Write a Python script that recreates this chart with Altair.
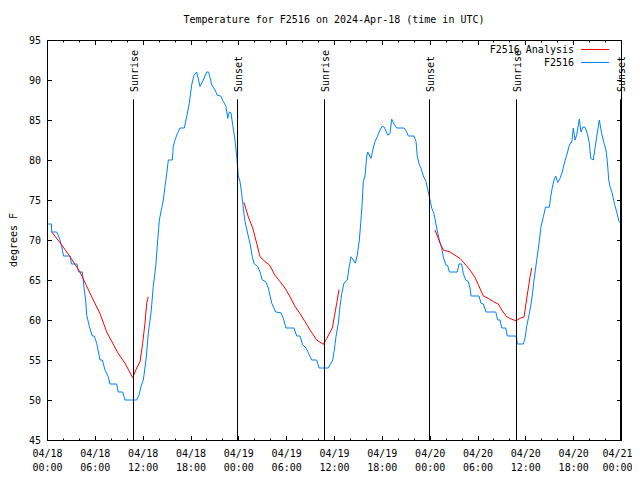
import altair as alt
import pandas as pd

# ---------------- data (hours since 2024-04-18 00:00 UTC, degrees F) ----------------
obs_hours = [0.16, 0.56, 0.59, 1.22, 1.44, 1.63, 1.88, 2.07, 2.89, 3.07, 3.76, 3.95, 4.43, 4.68,
             4.85, 4.98, 5.31, 5.68, 5.93, 6.23, 6.65, 6.94, 7.28, 7.69, 7.90, 8.74, 8.94, 9.50,
             9.78, 11.25, 11.54, 11.79, 12.08, 12.42, 12.71, 13.05, 13.33, 13.64, 13.89, 14.09,
             14.59, 14.80, 15.02, 15.22, 15.72, 15.84, 16.06, 16.35, 16.68, 17.22, 17.52, 17.85,
             18.15, 18.44, 18.78, 19.19, 19.61, 20.03, 20.28, 20.66, 21.07, 21.36, 21.79, 22.12,
             22.45, 22.67, 22.87, 23.08, 23.29, 23.58, 23.80, 24.00, 24.21, 24.42, 24.62, 24.84,
             25.13, 25.46, 25.75, 26.00, 26.43, 26.72, 27.01, 27.43, 27.76, 28.19, 28.69, 29.35,
             29.64, 29.98, 30.98, 31.32, 31.74, 32.07, 32.49, 32.78, 33.20, 33.83, 34.12, 35.29,
             35.84, 36.04, 36.25, 36.54, 36.75, 36.97, 37.25, 37.67, 37.88, 38.13, 38.42, 38.67,
             38.92, 39.18, 39.35, 39.51, 39.68, 39.89, 40.10, 40.23, 40.64, 40.93, 41.14, 41.43,
             41.77, 42.02, 42.31, 42.74, 43.02, 43.24, 43.53, 43.87, 44.78, 45.12, 45.32, 46.04,
             46.29, 46.45, 46.70, 46.91, 47.20, 47.54, 47.83, 48.04, 48.26, 48.54, 48.88, 49.21,
             49.51, 49.71, 50.01, 50.26, 50.47, 51.47, 51.68, 52.02, 52.22, 52.52, 52.85, 53.06,
             53.19, 54.19, 54.44, 54.73, 55.07, 56.29, 56.54, 56.82, 57.04, 57.54, 57.74, 58.79,
             58.92, 58.99, 59.75, 59.96, 60.17, 60.50, 60.80, 61.09, 61.43, 61.72, 61.97, 62.26,
             62.53, 63.01, 63.18, 63.39, 63.60, 63.81, 64.06, 64.35, 64.64, 64.89, 65.19, 65.48,
             65.69, 65.82, 66.02, 66.23, 66.44, 66.77, 66.98, 67.20, 67.49, 67.78, 68.03, 68.20,
             68.53, 68.74, 68.95, 69.28, 69.58, 69.87, 70.12, 70.29, 70.46, 70.62, 70.91, 71.16,
             71.46, 71.75, 72.00]
obs_temps = [72, 72, 71, 71, 70.5, 70, 69, 68, 68, 67, 67, 66, 66, 63.75,
             62.5, 60.6, 59.2, 58, 58, 57.1, 55, 55, 53.75, 52.9, 52, 52, 51, 51,
             50, 50, 50.6, 51.7, 52.5, 55, 58.4, 60.9, 64.2, 66.7, 70, 72.5,
             75, 76.7, 78.3, 80, 80, 81.7, 82.5, 83.3, 84, 84, 85.4, 87.1,
             89.4, 90.6, 91, 89.2, 90, 91, 91, 89.4, 88.75, 88.1, 88, 87.3,
             86.7, 85.2, 86, 85.9, 84.4, 82.5, 80.4, 78, 77.3, 75.8, 74, 72.3,
             71, 69.6, 67.9, 67, 66.7, 66, 65, 64.8, 64, 62.1, 61, 60.9,
             60.2, 59, 59, 58, 58, 56.9, 56.5, 55.9, 55, 55, 54, 54,
             55, 56.25, 57.9, 59.6, 61.7, 63.3, 64.6, 65, 66.5, 67.9, 67.5, 67.1,
             68.1, 70, 72.1, 74.2, 77.3, 78, 80.4, 81, 80.2, 81.5, 82.3, 82.9,
             83.75, 84.2, 84.1, 83.1, 83.3, 85.1, 84.5, 84, 84, 83.5, 83, 83,
             82.3, 80.4, 79.4, 79, 78, 77.3, 76, 75, 74, 73.3, 71.5, 70,
             69, 67.9, 66.9, 66.8, 66, 66, 67, 67, 65.8, 65, 64.8, 64,
             63, 63, 62.1, 62, 61, 61, 60, 60, 59, 59, 58, 58,
             57.7, 57, 57, 57.7, 59.2, 60.8, 62.5, 65, 67.5, 69.6, 71.7, 72.9,
             74.1, 74.1, 75.4, 76.6, 77.5, 78, 77.2, 77.7, 78.5, 79.6, 80.6, 81.7,
             82.2, 82.2, 84, 82.5, 83.1, 85.1, 83.5, 84.1, 84.1, 83.3, 82.1, 80.2,
             80, 81.5, 82.9, 85, 83.3, 82.1, 81.25, 79.8, 77.5, 76.7, 75.8, 74.6,
             73.5, 72.3, 72]

ana_hours_1 = [0.59, 1.84, 2.89, 4.14, 5.61, 6.65, 7.49, 8.94, 9.78, 10.75, 11.25, 11.67,
               12.00, 12.29, 12.51, 12.71]
ana_temps_1 = [71.0, 69.4, 67.9, 66.0, 62.9, 60.8, 58.5, 55.8, 54.6, 52.8, 54.0, 54.8,
               57.1, 59.6, 62.1, 62.9]
ana_hours_2 = [24.71, 25.25, 25.80, 26.30, 26.72, 27.35, 27.89, 28.60, 29.23, 29.85, 30.48,
               31.11, 31.74, 32.36, 32.99, 33.83, 34.66, 35.09, 35.79, 36.04, 36.34, 36.63]
ana_temps_2 = [74.7, 72.9, 71.5, 69.6, 67.9, 67.3, 66.9, 65.6, 64.8, 64.0, 62.9,
               61.7, 60.8, 59.8, 58.75, 57.5, 56.96, 57.7, 59.0, 60.4, 62.1, 63.8]
ana_hours_3 = [48.67, 49.01, 49.30, 49.71, 50.55, 51.17, 51.80, 52.43, 53.06, 53.69, 54.10,
               54.73, 55.36, 55.98, 56.61, 57.04, 57.67, 58.29, 58.83, 59.33, 59.84, 60.09,
               60.30, 60.59, 60.80]
ana_temps_3 = [71.25, 70.4, 69.6, 68.75, 68.5, 68.1, 67.7, 67.0, 66.25, 65.3, 64.4,
               63.0, 62.7, 62.3, 62.0, 61.25, 60.4, 60.1, 59.9, 60.2, 60.4, 62.1,
               63.5, 65.4, 66.5]

sun_hours = [10.85, 23.90, 34.81, 47.98, 58.89, 71.94]
sun_labels = ["Sunrise", "Sunset", "Sunrise", "Sunset", "Sunrise", "Sunset"]

x_major = [0, 6, 12, 18, 24, 30, 36, 42, 48, 54, 60, 66, 72]
x_minor = list(range(0, 73, 2))
x_dates = ["04/18", "04/18", "04/18", "04/18", "04/19", "04/19", "04/19", "04/19",
           "04/20", "04/20", "04/20", "04/20", "04/21"]
x_times = ["00:00", "06:00", "12:00", "18:00"] * 3 + ["00:00"]
y_ticks = [45, 50, 55, 60, 65, 70, 75, 80, 85, 90, 95]

legend_labels = ["F2516 Analysis", "F2516"]
legend_colors = ["#ff0000", "#0080ff"]
title_text = "Temperature for F2516 on 2024-Apr-18 (time in UTC)"
y_title = "degrees F"

# ---------------- frames ----------------
obs = pd.DataFrame({"h": obs_hours, "t": obs_temps})
ana = pd.concat([
    pd.DataFrame({"h": ana_hours_1, "t": ana_temps_1, "seg": 1}),
    pd.DataFrame({"h": ana_hours_2, "t": ana_temps_2, "seg": 2}),
    pd.DataFrame({"h": ana_hours_3, "t": ana_temps_3, "seg": 3}),
])
sun = pd.DataFrame({"h": sun_hours, "label": sun_labels})

FONT = "DejaVu Sans Mono"
W, H = 574, 400
MAJ, MIN = 4.5, 2

xs = alt.Scale(domain=[0, 72], nice=False, zero=False)
ys = alt.Scale(domain=[45, 95], nice=False, zero=False)

label_expr = (f"[{x_dates}[round(datum.value/6)], {x_times}[round(datum.value/6)]]")


def tick_axis(orient, values, size, **kw):
    return alt.Axis(orient=orient, values=values, offset=-size, tickSize=size,
                    domain=False, grid=False, title=None, tickColor="black",
                    tickWidth=1, **kw)


blue = alt.Chart(obs).mark_line(color="#0080ff", strokeWidth=1).encode(
    x=alt.X("h:Q", scale=xs, axis=tick_axis(
        "bottom", x_major, MAJ, labelExpr=label_expr, labelFlush=False,
        labelOverlap=False, labelPadding=8, labelBaseline="top",
        labelLineHeight=14, labelFont=FONT, labelFontSize=10, labelColor="black",
        labelOffset={"condition": {"test": "datum.value >= 72", "value": -4}, "value": 0})),
    y=alt.Y("t:Q", scale=ys, axis=tick_axis(
        "left", y_ticks, MAJ, format="d", labelPadding=6.5, labelFont=FONT,
        labelFontSize=10, labelColor="black", labelFlush=False)),
)

red = alt.Chart(ana).mark_line(color="#ff0000", strokeWidth=1).encode(
    x=alt.X("h:Q", scale=xs, axis=tick_axis("bottom", x_minor, MIN, labels=False)),
    y=alt.Y("t:Q", scale=ys, axis=tick_axis("right", y_ticks, MAJ, labels=False)),
    detail="seg:N",
)

rules = alt.Chart(sun).mark_rule(color="black", strokeWidth=1).encode(
    x=alt.X("h:Q", scale=xs, axis=tick_axis("top", x_major, MAJ, labels=False)),
    y=alt.value(59.3),
    y2=alt.value(H),
)

sun_text = alt.Chart(sun).mark_text(
    angle=270, align="left", baseline="middle", font=FONT, fontSize=10,
    color="black", dy=1.5,
).encode(
    x=alt.X("h:Q", scale=xs, axis=tick_axis("top", x_minor, MIN, labels=False)),
    y=alt.value(52),
    text="label:N",
)

title = alt.Chart(pd.DataFrame({"s": [title_text]})).mark_text(
    font=FONT, fontSize=10, color="black", align="center", baseline="middle"
).encode(x=alt.value(W / 2), y=alt.value(-20), text="s:N")

ytitle = alt.Chart(pd.DataFrame({"s": [y_title]})).mark_text(
    font=FONT, fontSize=10, color="black", align="center", baseline="middle", angle=270
).encode(x=alt.value(-33.5), y=alt.value(H / 2), text="s:N")

legend_layers = []
for i, (lab, col) in enumerate(zip(legend_labels, legend_colors)):
    d = pd.DataFrame({"label": [lab]})
    ypos = 9.5 + 13 * i
    legend_layers.append(
        alt.Chart(d).mark_text(font=FONT, fontSize=10, color="black",
                               align="right", baseline="middle").encode(
            x=alt.value(527), y=alt.value(ypos), text="label:N"))
    legend_layers.append(
        alt.Chart(d).mark_rule(color=col, strokeWidth=1).encode(
            x=alt.value(534), x2=alt.value(562), y=alt.value(ypos)))

chart = alt.layer(
    blue, red, rules, sun_text, title, ytitle, *legend_layers
).resolve_axis(x="independent", y="independent").properties(
    width=W, height=H,
    autosize=alt.AutoSizeParams(type="none"),
    padding={"left": 39, "top": 32, "right": 11, "bottom": 32},
).configure_view(stroke="black", strokeWidth=1)

chart.save("out.html", embed_options={"renderer": "svg", "actions": False})
